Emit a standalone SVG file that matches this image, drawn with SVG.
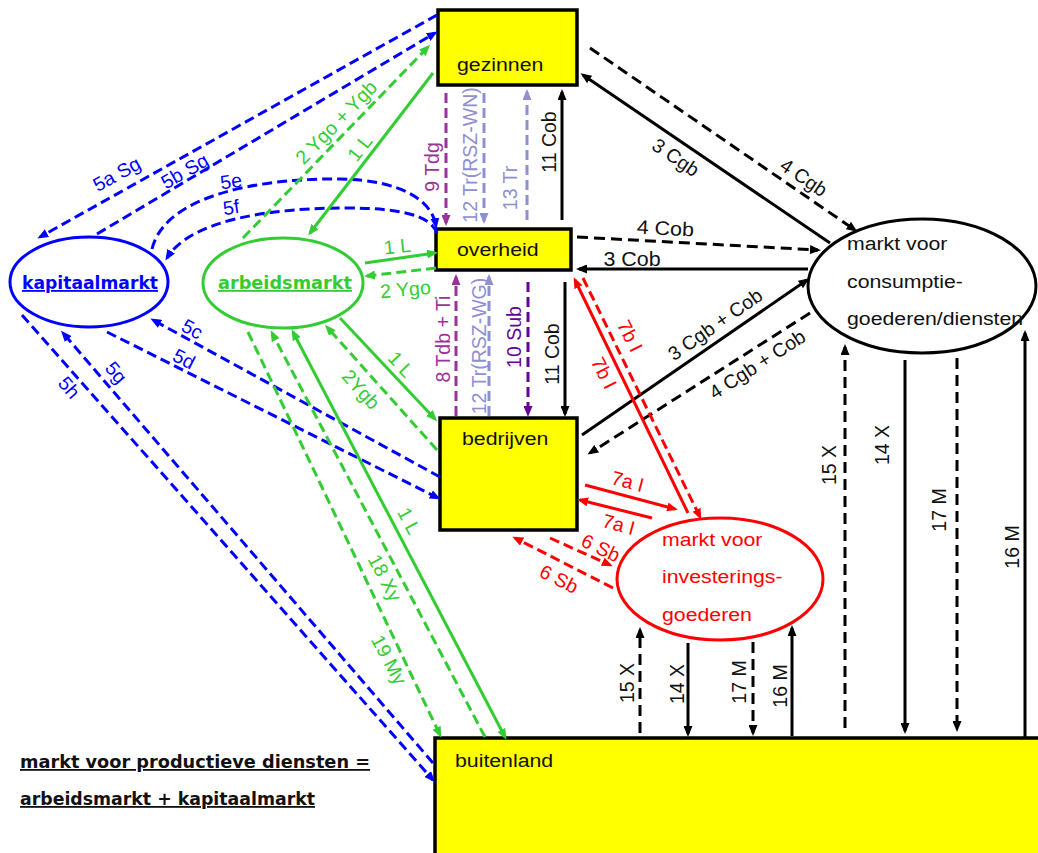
<svg xmlns="http://www.w3.org/2000/svg" width="1038" height="853" viewBox="0 0 1038 853">
<style>
.ln{fill:none;stroke-width:3}
.d{stroke-dasharray:10 5}
.dk{stroke-dasharray:11 6}
.bl{stroke:#0000ff}.gr{stroke:#33cc33}.rd{stroke:#ff0000}.bk{stroke:#000}.pu{stroke:#993399}.la{stroke:#8f8fd1}.dp{stroke:#660099}
.box{fill:#ffff00;stroke:#000;stroke-width:3.5}
.t{font-family:"Liberation Sans",Arial,sans-serif;font-size:19.5px;text-anchor:middle}
.tl{font-family:"Liberation Sans",Arial,sans-serif;font-size:19px}
.fb{fill:#0000ff}.fg{fill:#33cc33}.fr{fill:#ff0000}.fk{fill:#111}.fp{fill:#993399}.fl{fill:#8f8fd1}.fd{fill:#660099}
.bold{font-family:"DejaVu Sans",Verdana,sans-serif;font-weight:bold;font-size:18px;text-decoration:underline}
</style>
<defs>
<marker id="ab" markerUnits="userSpaceOnUse" markerWidth="11" markerHeight="9" refX="8" refY="4.5" orient="auto-start-reverse"><path d="M0,0 L11,4.5 L0,9 z" fill="#0000ff"/></marker>
<marker id="ag" markerUnits="userSpaceOnUse" markerWidth="11" markerHeight="9" refX="8" refY="4.5" orient="auto-start-reverse"><path d="M0,0 L11,4.5 L0,9 z" fill="#33cc33"/></marker>
<marker id="ar" markerUnits="userSpaceOnUse" markerWidth="11" markerHeight="9" refX="8" refY="4.5" orient="auto-start-reverse"><path d="M0,0 L11,4.5 L0,9 z" fill="#ff0000"/></marker>
<marker id="ak" markerUnits="userSpaceOnUse" markerWidth="11" markerHeight="9" refX="8" refY="4.5" orient="auto-start-reverse"><path d="M0,0 L11,4.5 L0,9 z" fill="#000"/></marker>
<marker id="ap" markerUnits="userSpaceOnUse" markerWidth="11" markerHeight="9" refX="8" refY="4.5" orient="auto-start-reverse"><path d="M0,0 L11,4.5 L0,9 z" fill="#993399"/></marker>
<marker id="al" markerUnits="userSpaceOnUse" markerWidth="11" markerHeight="9" refX="8" refY="4.5" orient="auto-start-reverse"><path d="M0,0 L11,4.5 L0,9 z" fill="#8f8fd1"/></marker>
<marker id="ad" markerUnits="userSpaceOnUse" markerWidth="11" markerHeight="9" refX="8" refY="4.5" orient="auto-start-reverse"><path d="M0,0 L11,4.5 L0,9 z" fill="#660099"/></marker>
</defs>
<rect width="1038" height="853" fill="#fff"/>

<g id="gezinnen"><rect class="box" x="438" y="10" width="139" height="75"/><text class="tl fk" transform="translate(457,71) scale(1.12,1)">gezinnen</text></g>
<g id="overheid"><rect class="box" x="436" y="229" width="135" height="41"/><text class="tl fk" transform="translate(457,256) scale(1.12,1)">overheid</text></g>
<g id="bedrijven"><rect class="box" x="440" y="418" width="137" height="112"/><text class="tl fk" transform="translate(462,445) scale(1.12,1)">bedrijven</text></g>
<g id="buitenland"><rect class="box" x="435" y="738" width="700" height="160"/><text class="tl fk" transform="translate(455,767) scale(1.12,1)">buitenland</text></g>
<g id="kapitaalmarkt"><ellipse cx="89" cy="282" rx="79" ry="45" fill="none" stroke="#0000ff" stroke-width="3"/><text class="bold fb" x="90" y="289" text-anchor="middle" textLength="136" lengthAdjust="spacingAndGlyphs">kapitaalmarkt</text></g>
<g id="arbeidsmarkt"><ellipse cx="283" cy="283" rx="80" ry="45" fill="none" stroke="#33cc33" stroke-width="3"/><text class="bold fg" x="285" y="289" text-anchor="middle" textLength="134" lengthAdjust="spacingAndGlyphs">arbeidsmarkt</text></g>
<g id="markt-consumptie"><ellipse cx="922" cy="286" rx="114" ry="67" fill="none" stroke="#000" stroke-width="3"/>
<text class="tl fk" transform="translate(847,250) scale(1.12,1)">markt voor</text><text class="tl fk" transform="translate(847,288) scale(1.12,1)">consumptie-</text><text class="tl fk" transform="translate(847,325) scale(1.12,1)">goederen/diensten</text></g>
<g id="markt-investering"><ellipse cx="720" cy="579" rx="103" ry="61" fill="none" stroke="#ff0000" stroke-width="3"/>
<text class="tl fr" transform="translate(662,546) scale(1.12,1)">markt voor</text><text class="tl fr" transform="translate(662,583) scale(1.12,1)">investerings-</text><text class="tl fr" transform="translate(662,621) scale(1.12,1)">goederen</text></g>

<g id="note"><text class="bold fk" x="20" y="768" textLength="350" lengthAdjust="spacingAndGlyphs">markt voor productieve diensten =</text>
<text class="bold fk" x="20" y="805" textLength="295" lengthAdjust="spacingAndGlyphs">arbeidsmarkt + kapitaalmarkt</text></g>

<g id="connectors">
<path class="ln d bl" marker-end="url(#ab)" d="M437,15 L40,237"/>
<path class="ln d bl" marker-end="url(#ab)" d="M97,234 L435,33"/>
<path class="ln d bl" marker-end="url(#ab)" d="M152,249 C165,195 260,178 340,179 C400,180 432,200 436,226"/>
<path class="ln d bl" marker-end="url(#ab)" d="M437,233 C430,215 400,208 345,208 C270,208 190,220 167,258"/>
<path class="ln d bl" marker-end="url(#ab)" d="M440,477 L153,320"/>
<path class="ln d bl" marker-end="url(#ab)" d="M107,332 L438,498"/>
<path class="ln d bl" marker-end="url(#ab)" d="M433,763 L63,333"/>
<path class="ln d bl" marker-end="url(#ab)" d="M22,315 L433,780"/>

<path class="ln d gr" marker-end="url(#ag)" d="M243,238 L428,47"/>
<path class="ln gr" marker-end="url(#ag)" d="M433,73 L310,233"/>
<path class="ln gr" marker-end="url(#ag)" d="M365,263 L435,253"/>
<path class="ln d gr" marker-end="url(#ag)" d="M436,268 L367,276"/>
<path class="ln gr" marker-end="url(#ag)" d="M340,318 L435,419"/>
<path class="ln d gr" marker-end="url(#ag)" d="M437,450 L327,327"/>
<path class="ln gr" marker-start="url(#ag)" marker-end="url(#ag)" d="M293,332 L505,737"/>
<path class="ln d gr" marker-end="url(#ag)" d="M485,737 L272,333"/>
<path class="ln d gr" marker-end="url(#ag)" d="M248,332 L440,735"/>

<path class="ln d pu" marker-end="url(#ap)" d="M446,93 L446,223"/>
<path class="ln d la" marker-end="url(#al)" d="M484,93 L484,221"/>
<path class="ln d la" marker-end="url(#al)" d="M527,220 L527,92"/>
<path class="ln bk" marker-end="url(#ak)" d="M562,220 L562,92"/>
<path class="ln d pu" marker-end="url(#ap)" d="M456,416 L456,277"/>
<path class="ln d la" marker-end="url(#al)" d="M489,416 L489,277"/>
<path class="ln d dp" marker-end="url(#ad)" d="M528,282 L528,414"/>
<path class="ln bk" marker-end="url(#ak)" d="M565,282 L565,414"/>

<path class="ln bk" marker-end="url(#ak)" d="M830,243 L583,75"/>
<path class="ln dk bk" marker-end="url(#ak)" d="M590,48 L855,230"/>
<path class="ln dk bk" marker-end="url(#ak)" d="M577,237 L818,250"/>
<path class="ln bk" marker-end="url(#ak)" d="M808,269 L579,269"/>
<path class="ln bk" marker-end="url(#ak)" d="M582,435 L807,280"/>
<path class="ln dk bk" marker-end="url(#ak)" d="M810,313 L590,453"/>

<path class="ln rd" marker-end="url(#ar)" d="M688,513 L575,280"/>
<path class="ln d rd" marker-end="url(#ar)" d="M583,278 L700,517"/>
<path class="ln rd" marker-end="url(#ar)" d="M585,485 L675,509"/>
<path class="ln rd" marker-end="url(#ar)" d="M652,518 L580,500"/>
<path class="ln d rd" marker-end="url(#ar)" d="M550,538 L610,565"/>
<path class="ln d rd" marker-end="url(#ar)" d="M613,588 L515,538"/>

<path class="ln dk bk" marker-end="url(#ak)" d="M640,733 L640,630"/>
<path class="ln bk" marker-end="url(#ak)" d="M688,643 L688,734"/>
<path class="ln dk bk" marker-end="url(#ak)" d="M753,642 L753,733"/>
<path class="ln bk" marker-end="url(#ak)" d="M792,736 L792,628"/>
<path class="ln dk bk" marker-end="url(#ak)" d="M845,728 L845,347"/>
<path class="ln bk" marker-end="url(#ak)" d="M905,360 L905,731"/>
<path class="ln dk bk" marker-end="url(#ak)" d="M957,358 L957,729"/>
<path class="ln bk" marker-end="url(#ak)" d="M1025,737 L1025,333"/>

<g id="labels">
<text class="t fb" transform="translate(120,180) rotate(-29)">5a Sg</text>
<text class="t fb" transform="translate(188,177) rotate(-30)">5b Sg</text>
<text class="t fb" transform="translate(232,188) rotate(-8)">5e</text>
<text class="t fb" transform="translate(232,214) rotate(-8)">5f</text>
<text class="t fb" transform="translate(189,335) rotate(29)">5c</text>
<text class="t fb" transform="translate(181,365) rotate(27)">5d</text>
<text class="t fb" transform="translate(111,377) rotate(49)">5g</text>
<text class="t fb" transform="translate(64,392) rotate(49)">5h</text>

<text class="t fg" transform="translate(341,127) rotate(-46)">2 Ygo + Ygb</text>
<text class="t fg" transform="translate(365,152) rotate(-52)">1 L</text>
<text class="t fg" transform="translate(398,253) rotate(-6)">1 L</text>
<text class="t fg" transform="translate(406,296) rotate(-5)">2 Ygo</text>
<text class="t fg" transform="translate(396,369) rotate(47)">1 L</text>
<text class="t fg" transform="translate(356,394) rotate(48)">2Ygb</text>
<text class="t fg" transform="translate(403,524) rotate(62)">1 L</text>
<text class="t fg" transform="translate(379,581) rotate(62)">18 Xy</text>
<text class="t fg" transform="translate(383,663) rotate(62)">19 My</text>

<text class="t fp" transform="translate(439,167) rotate(-90)">9 Tdg</text>
<text class="t fl" transform="translate(477,155) rotate(-90)">12 Tr(RSZ-WN)</text>
<text class="t fl" transform="translate(517,188) rotate(-90)">13 Tr</text>
<text class="t fk" transform="translate(556,142) rotate(-90)">11 Cob</text>
<text class="t fp" transform="translate(450,339) rotate(-90)">8 Tdb + Ti</text>
<text class="t fl" transform="translate(486,346) rotate(-90)">12 Tr(RSZ-WG)</text>
<text class="t fd" transform="translate(521,337) rotate(-90)">10 Sub</text>
<text class="t fk" transform="translate(559,354) rotate(-90)">11 Cob</text>

<text class="t fk" transform="translate(672,163) rotate(34)">3 Cgb</text>
<text class="t fk" transform="translate(800,183) rotate(34)">4 Cgb</text>
<text class="t fk" transform="translate(665,235) rotate(3) scale(1.1,1)">4 Cob</text>
<text class="t fk" transform="translate(632,266) scale(1.1,1)">3 Cob</text>
<text class="t fk" transform="translate(719,330) rotate(-35)">3 Cgb + Cob</text>
<text class="t fk" transform="translate(761,370) rotate(-33)">4 Cgb + Cob</text>

<text class="t fr" transform="translate(624,339) rotate(63)">7b I</text>
<text class="t fr" transform="translate(598,376) rotate(63)">7b I</text>
<text class="t fr" transform="translate(626,488) rotate(15)">7a I</text>
<text class="t fr" transform="translate(617,531) rotate(15)">7a I</text>
<text class="t fr" transform="translate(598,554) rotate(25)">6 Sb</text>
<text class="t fr" transform="translate(556,585) rotate(27)">6 Sb</text>

<text class="t fk" transform="translate(634,683) rotate(-90)">15 X</text>
<text class="t fk" transform="translate(684,684) rotate(-90)">14 X</text>
<text class="t fk" transform="translate(746,682) rotate(-90)">17 M</text>
<text class="t fk" transform="translate(787,686) rotate(-90)">16 M</text>
<text class="t fk" transform="translate(836,465) rotate(-90)">15 X</text>
<text class="t fk" transform="translate(889,445) rotate(-90)">14 X</text>
<text class="t fk" transform="translate(946,510) rotate(-90)">17 M</text>
<text class="t fk" transform="translate(1019,547) rotate(-90)">16 M</text>
</g>
</g>
</svg>
